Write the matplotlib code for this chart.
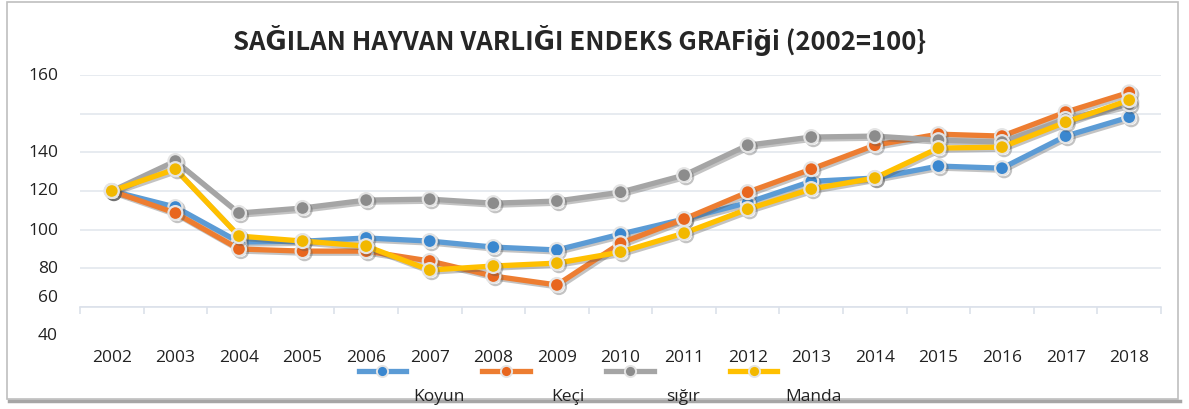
import matplotlib.pyplot as plt
import matplotlib.patheffects as pe
from matplotlib.patches import Rectangle
from matplotlib.lines import Line2D
import matplotlib.transforms as mtransforms

# ------------------------------------ veri ------------------------------------
years = ['2002', '2003', '2004', '2005', '2006', '2007', '2008', '2009', '2010',
         '2011', '2012', '2013', '2014', '2015', '2016', '2017', '2018']
koyun = [100, 91.7, 73.6, 74.0, 75.7, 74.1, 71.0, 69.5, 77.7, 85.5, 94.0,
         105.0, 106.7, 112.9, 111.8, 128.4, 138.2]
keci = [100, 88.6, 70.0, 68.9, 68.9, 63.8, 56.0, 51.4, 73.0, 85.5, 99.4,
        111.3, 123.7, 129.4, 128.4, 140.8, 151.0]
sigir = [100, 115.5, 88.6, 91.2, 95.3, 95.8, 93.7, 94.8, 99.4, 108.2, 123.7,
         127.9, 128.4, 126.3, 125.3, 137.2, 144.9]
manda = [100, 111.3, 76.7, 74.1, 71.5, 59.1, 61.2, 62.7, 68.4, 78.2, 90.6,
         101.0, 106.7, 122.2, 122.7, 135.6, 147.0]
series_names = ['Koyun', 'Keçi', 'sığır', 'Manda']
colors = ['#5B9BD5', '#ED7D31', '#A5A5A5', '#FFC000']
marker_colors = ['#3A87CF', '#E8661E', '#8C8C8C', '#F2B800']
# y ekseni etiketleri (orijinal grafikte kaymış halde)
ytick_text = ['160', '140', '120', '100', '80', '60', '40']
ytick_at = [160, 120.1, 100.5, 79.8, 60.2, 45.2, 25.5]

plt.rcParams['font.family'] = ['Open Sans', 'DejaVu Sans']

W, H = 1189, 410
fig = plt.figure(figsize=(W / 100, H / 100), dpi=100)
ax = fig.add_axes([80 / W, 1 - 308 / H, 1081 / W, 232 / H])

x = list(range(len(years)))
shadow = [pe.SimpleLineShadow(offset=(1.5, -1.5), shadow_color='#555555', alpha=0.35),
          pe.Normal()]
for vals, c, mc in zip([koyun, keci, sigir, manda], colors, marker_colors):
    ax.plot(x, vals, color=c, lw=3.8, marker='o', ms=10, mfc=mc,
            mec='#E4E4E4', mew=1.6, clip_on=False, zorder=3,
            path_effects=shadow, solid_joinstyle='round')

ax.set_xlim(-0.5, len(years) - 0.5)
ax.set_ylim(40, 160)
ax.set_yticks(range(40, 161, 20))
ax.set_yticklabels([])
ax.tick_params(axis='y', length=0)
ax.grid(axis='y', color='#E3E7EE', lw=1.2)
ax.set_axisbelow(True)
for s in ['top', 'right', 'left']:
    ax.spines[s].set_visible(False)
ax.spines['bottom'].set_color('#DCE1EA')
ax.spines['bottom'].set_linewidth(1.2)

ax.set_xticks(x)
ax.set_xticklabels(years, fontsize=12.5, color='#222222')
ax.tick_params(axis='x', length=0, pad=30)
ax.set_xticks([i - 0.5 for i in range(len(years) + 1)], minor=True)
ax.tick_params(axis='x', which='minor', length=5, color='#DCE1EA', width=1.2)

trans = mtransforms.blended_transform_factory(ax.transAxes, ax.transData)
for t, v in zip(ytick_text, ytick_at):
    ax.text(-22 / 1081, v, t, transform=trans, ha='right', va='center',
            fontsize=12.5, color='#222222', clip_on=False)

fig.text(580 / W, 1 - 40 / H, 'SAĞILAN HAYVAN VARLIĞI ENDEKS GRAFiği (2002=100}',
         ha='center', va='center', fontsize=18.5, fontweight='bold',
         color='#262626', family=['Noto Sans CJK KR', 'DejaVu Sans'])

# lejant
handles = [Line2D([], [], color=c, lw=3.8, marker='o', ms=8, mfc=mc,
                  mec='#E4E4E4', mew=1.4)
           for c, mc in zip(colors, marker_colors)]
fig.legend(handles, [''] * 4, ncol=4, loc='center', frameon=False,
           bbox_to_anchor=(568 / W, 1 - 374 / H), fontsize=11,
           handlelength=3.1, handletextpad=0, columnspacing=5.0)
for name, cx in zip(series_names, [439, 568, 683, 813]):
    fig.text(cx / W, 1 - 397 / H, name, ha='center', va='center',
             fontsize=12.5, color='#222222')

# çerçeve
fig.patches.append(Rectangle((7 / W, 1 - 400 / H), 1171 / W, 397 / H,
                             transform=fig.transFigure, fill=False,
                             edgecolor='#BFBFBF', lw=1.2))
fig.lines.append(Line2D([9 / W, 1180 / W], [1 - 402 / H, 1 - 402 / H],
                        transform=fig.transFigure, color='#A6A6A6', lw=2.5))

fig.savefig('out.png', dpi=100)
